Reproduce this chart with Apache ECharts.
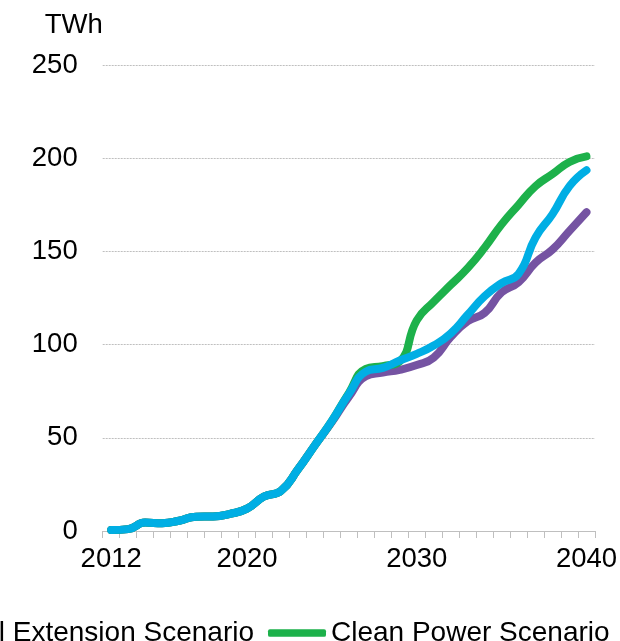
<!DOCTYPE html>
<html><head><meta charset="utf-8">
<script src="https://cdn.jsdelivr.net/npm/echarts@6/dist/echarts.min.js"></script>
<style>html,body{margin:0;padding:0;background:#fff;}#c{width:620px;height:641px;}</style>
</head><body><div id="c"></div>
<script>
const years = ['2012','2013','2014','2015','2016','2017','2018','2019','2020','2021',
  '2022','2023','2024','2025','2026','2027','2028','2029','2030','2031',
  '2032','2033','2034','2035','2036','2037','2038','2039','2040'];
const shownYearLabels = ['2012','2020','2030','2040'];
const seriesNames = ['Natural Extension Scenario','Clean Power Scenario','Accelerated Scenario'];
const extensionValues = [0.5,1,4.5,4.2,5.5,7.7,7.8,9.2,12,18.5,
  21.5,33,46,58.5,72,83,85,86.5,89,93,
  104,112.5,117,128,133.5,144,151,161,171];
const cleanPowerValues = [0.5,1,4.5,4.2,5.5,7.7,7.8,9.2,12,18.5,
  21.5,33,46,59,74,87,88.5,91,113,123,
  132,141,152,164.5,175,185,191.5,198,201];
const acceleratedValues = [0.5,1,4.5,4.2,5.5,7.7,7.8,9.2,12,18.5,
  21.5,33,46,59,73.5,85.5,87.5,91.5,95,99.5,
  106,116,126,133,138,157.5,170,185,193.5];
const yMin = 0, yMax = 250, yStep = 50;
const unitLabel = 'TWh';

const FONT = '"Liberation Sans", Arial, sans-serif';
const legendFont = 28;
const cv = document.createElement('canvas').getContext('2d');
cv.font = legendFont + 'px "Liberation Sans"';
const w1 = cv.measureText(seriesNames[0]).width;
const iconW = 58, itemGap = 14;
const legendLeft = 263 - itemGap - w1 - 5 - iconW;

const chart = echarts.init(document.getElementById('c'), null, {renderer: 'canvas'});
const colors = ['#7553A2', '#1DB14B', '#00AEE4'];
const valuesList = [extensionValues, cleanPowerValues, acceleratedValues];
chart.setOption({
  animation: false,
  backgroundColor: '#fff',
  color: colors,
  textStyle: {fontFamily: FONT},
  grid: {left: 102.7, right: 21.4, top: 65, bottom: 110, containLabel: false},
  legend: {
    data: seriesNames,
    left: legendLeft,
    top: 614,
    icon: 'roundRect',
    itemWidth: iconW,
    itemHeight: 7.5,
    itemGap: itemGap,
    textStyle: {fontSize: legendFont, color: '#000', fontFamily: FONT, lineHeight: 28}
  },
  xAxis: {
    type: 'category',
    data: years,
    boundaryGap: true,
    axisLine: {lineStyle: {color: '#BFBFBF', width: 1}},
    axisTick: {show: true, interval: 0, length: 7, lineStyle: {color: '#BFBFBF'}},
    axisLabel: {
      interval: (i, v) => shownYearLabels.indexOf(v) >= 0,
      fontSize: 27.5, color: '#000', fontFamily: FONT, margin: 14
    },
    splitLine: {show: false}
  },
  yAxis: {
    type: 'value',
    min: yMin, max: yMax, interval: yStep,
    name: unitLabel,
    nameLocation: 'end',
    nameGap: 26,
    nameTextStyle: {fontSize: 27.5, color: '#000', fontFamily: FONT, align: 'right'},
    axisLine: {show: false},
    axisTick: {show: false},
    axisLabel: {fontSize: 27.5, color: '#000', fontFamily: FONT, margin: 25},
    splitLine: {lineStyle: {color: '#BFBFBF', type: [2, 1], width: 1}}
  },
  series: seriesNames.map((n, i) => ({
    name: n,
    type: 'line',
    data: valuesList[i],
    smooth: 0.5,
    symbol: 'none',
    lineStyle: {width: 8, cap: 'round', join: 'round', color: colors[i]},
    z: 2 + i
  }))
});
</script></body></html>
